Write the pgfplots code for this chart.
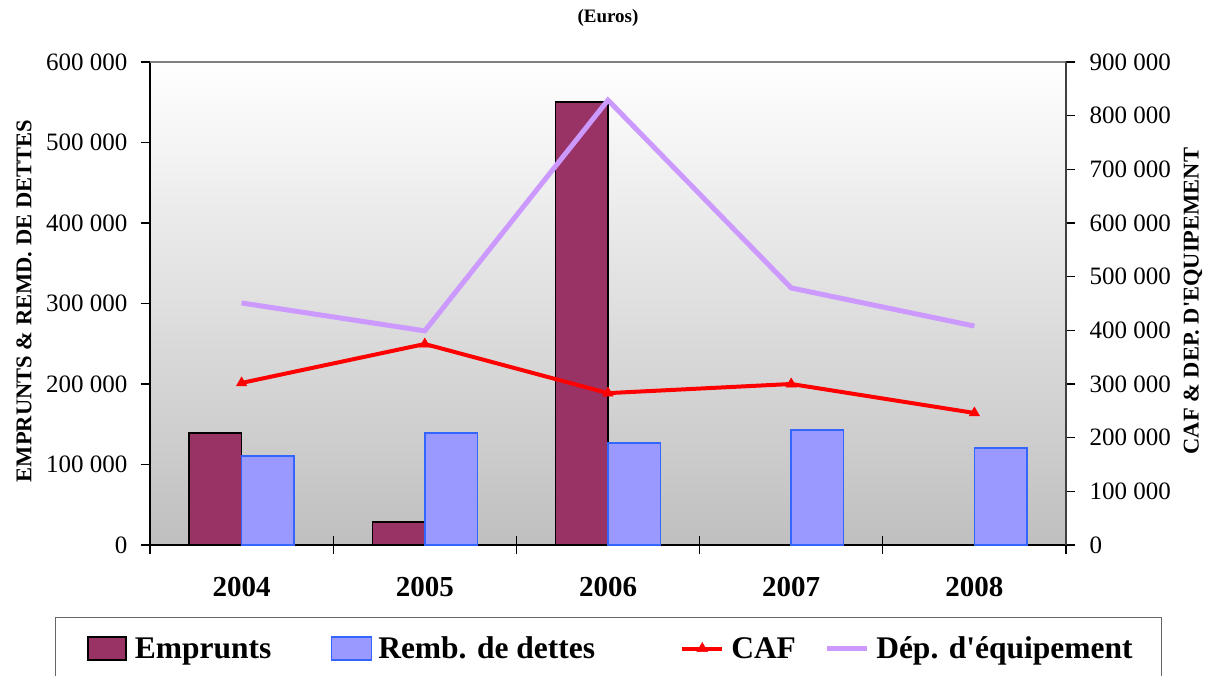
\documentclass[border=0pt]{standalone}
\usepackage{fontspec}
\setmainfont{Liberation Serif}
\usepackage{pgfplots}
\pgfplotsset{compat=1.18}
\definecolor{emp}{HTML}{993366}
\definecolor{remb}{HTML}{9999FF}
\definecolor{rembedge}{HTML}{3366FF}
\definecolor{dep}{HTML}{CC99FF}
\begin{document}
\begin{tikzpicture}
\useasboundingbox (0,0) rectangle (1205pt,675pt);
\pgfplotsset{
  common/.style={
    at={(150pt,130pt)}, anchor=south west,
    scale only axis, width=916pt, height=483pt,
    xmin=-0.5, xmax=4.5,
    tick align=outside, major tick length=9pt,
    /pgf/number format/fixed,
    /pgf/number format/precision=0,
    /pgf/number format/assume math mode=true,
    /pgf/number format/1000 sep={\ },
    scaled y ticks=false,
    yticklabel style={font=\fontsize{25}{30}\selectfont},
    ylabel style={font=\bfseries\fontsize{22.5}{26}\selectfont},
    tick style={line width=1.2pt, black},
  }
}
\begin{axis}[common,
  axis x line*=bottom, axis y line*=left,
  axis line style={black, line width=1.5pt},
  axis background/.style={top color=white, bottom color=gray!50},
  ymin=0, ymax=600000, ytick={0,100000,...,600000},
  yticklabel style={xshift=-10pt},
  xtick={-0.5,0.5,1.5,2.5,3.5,4.5}, x tick label as interval,
  xticklabels={2004,2005,2006,2007,2008},
  minor xtick={-0.5,0.5,1.5,2.5,3.5,4.5}, minor tick length=9pt,
  minor x tick style={yshift=9pt},
  xticklabel style={font=\bfseries\fontsize{29}{34}\selectfont, yshift=-20pt},
  ybar=0pt, bar width=52.5pt,
  ylabel={EMPRUNTS \& REMD. DE DETTES},
  ylabel style={at={(axis description cs:-0.1376,0.505)}, anchor=center},
  title={(Euros)},
  title style={font=\bfseries\fontsize{19}{22}\selectfont, at={(axis description cs:0.5,1.0787)}, anchor=center},
]
\addplot[fill=emp, draw=black, line width=1.5pt] coordinates {(0,139000) (1,28500) (2,550000)};
\addplot[fill=remb, draw=rembedge, line width=1.5pt] coordinates {(0,110500) (1,139000) (2,126500) (3,143000) (4,120500)};
\end{axis}
\begin{axis}[common,
  axis x line*=top, axis y line*=right,
  x axis line style={black!50, line width=1.5pt},
  y axis line style={black!75, line width=1.5pt},
  xtick=\empty,
  ymin=0, ymax=900000, ytick={0,100000,...,900000},
  yticklabel style={xshift=11pt},
  ylabel={CAF \& DEP. D\textquotesingle EQUIPEMENT},
  ylabel style={at={(axis description cs:1.1386,0.505)}, anchor=center, rotate=0},
  legend columns=4,
  legend style={at={(axis description cs:0.5005,-0.2143)}, anchor=center,
    draw=black!60, line width=1.5pt,
    font=\bfseries\fontsize{31.5}{36}\selectfont,
    inner xsep=29pt, inner ysep=19pt, column sep=0pt,
    nodes={inner sep=0pt}},
  legend image code/.code={\draw[mark repeat=2,mark phase=2,#1] plot coordinates {(0pt,0pt) (20pt,0pt) (40pt,0pt)}; \path (47pt,0pt);},
]
\addlegendimage{legend image code/.code={\draw[fill=emp, draw=black, line width=1.5pt] (3pt,-11.5pt) rectangle (41pt,11.5pt); \path (0pt,0pt) (49pt,0pt);}}
\addlegendentry{\makebox[196pt][l]{Emprunts}}
\addlegendimage{legend image code/.code={\draw[fill=remb, draw=rembedge, line width=1.5pt] (0pt,-11.5pt) rectangle (40pt,11.5pt); \path (46pt,0pt);}}
\addlegendentry{\makebox[302pt][l]{Remb. de dettes}}
\addplot[red, line width=4pt, mark=triangle*, mark size=6pt, mark options={line width=0.5pt}] coordinates {(0,302000) (1,374500) (2,283000) (3,300000) (4,246000)};
\addlegendentry{\makebox[93pt][l]{CAF}}
\addplot[dep, line width=5pt] coordinates {(0,451000) (1,399000) (2,829000) (3,479000) (4,408000)};
\addlegendentry{Dép. d\textquotesingle équipement}
\end{axis}
\end{tikzpicture}
\end{document}
